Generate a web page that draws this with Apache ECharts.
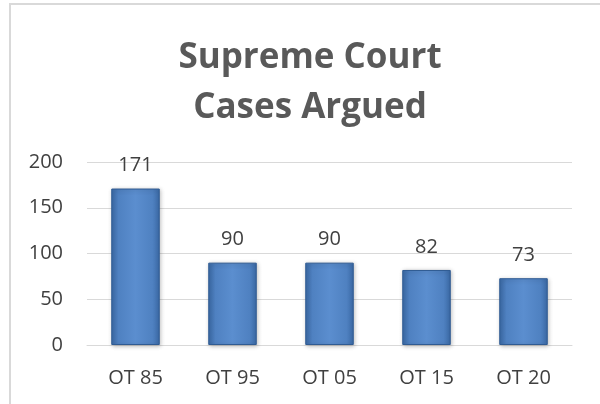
<!DOCTYPE html>
<html>
<head>
<meta charset="utf-8" />
<title>Supreme Court Cases Argued</title>
<script src="https://cdn.jsdelivr.net/npm/echarts@6/dist/echarts.min.js"></script>
<style>
  html, body { margin: 0; padding: 0; background: #fff; }
  #chart { width: 600px; height: 404px; }
</style>
</head>
<body>
<div id="chart"></div>
<script type="text/javascript">
// data
var terms = ['OT 85', 'OT 95', 'OT 05', 'OT 15', 'OT 20'];
var casesArgued = [171, 90, 90, 82, 73];
var yTicks = [0, 50, 100, 150, 200];

var myChart = echarts.init(document.getElementById('chart'));

var barColor = new echarts.graphic.LinearGradient(0, 0, 1, 0, [
  { offset: 0, color: '#3b6aa6' },
  { offset: 0.15, color: '#4f81c1' },
  { offset: 0.5, color: '#5b8ecf' },
  { offset: 0.85, color: '#4f81c1' },
  { offset: 1, color: '#3b6aa6' }
]);

var option = {
  backgroundColor: '#fff',
  animation: false,
  graphic: [{
    type: 'rect',
    shape: { x: 10, y: 4, width: 640, height: 440 },
    style: { fill: 'none', stroke: '#d9d9d9', lineWidth: 2 },
    silent: true
  }],
  title: {
    text: 'Supreme Court\nCases Argued',
    left: 305,
    top: 28,
    textAlign: 'center',
    textStyle: {
      fontFamily: 'Open Sans',
      fontSize: 35,
      fontWeight: 'bold',
      color: '#595959',
      lineHeight: 50
    }
  },
  grid: { left: 87, right: 28, top: 162, bottom: 59 },
  xAxis: {
    type: 'category',
    data: terms,
    axisLine: { show: true, lineStyle: { color: '#d9d9d9', width: 1 } },
    axisTick: { show: false },
    axisLabel: { color: '#404040', fontSize: 20, fontFamily: 'Open Sans', margin: 23 }
  },
  yAxis: {
    type: 'value',
    min: yTicks[0],
    max: yTicks[yTicks.length - 1],
    interval: 50,
    axisLine: { show: false },
    axisTick: { show: false },
    splitLine: { lineStyle: { color: '#d9d9d9', width: 1 } },
    axisLabel: { color: '#404040', fontSize: 20, fontFamily: 'Open Sans', margin: 24 }
  },
  series: [{
    name: 'Cases Argued',
    type: 'bar',
    data: casesArgued,
    barWidth: '50%',
    itemStyle: {
      color: barColor,
      borderColor: '#2f5b93',
      borderWidth: 1,
      shadowColor: 'rgba(0,0,0,0.25)',
      shadowBlur: 4,
      shadowOffsetX: 1,
      shadowOffsetY: 1
    },
    label: {
      show: true,
      position: 'top',
      distance: 13,
      color: '#404040',
      fontSize: 20,
      fontFamily: 'Open Sans'
    }
  }]
};

myChart.setOption(option);
</script>
</body>
</html>
